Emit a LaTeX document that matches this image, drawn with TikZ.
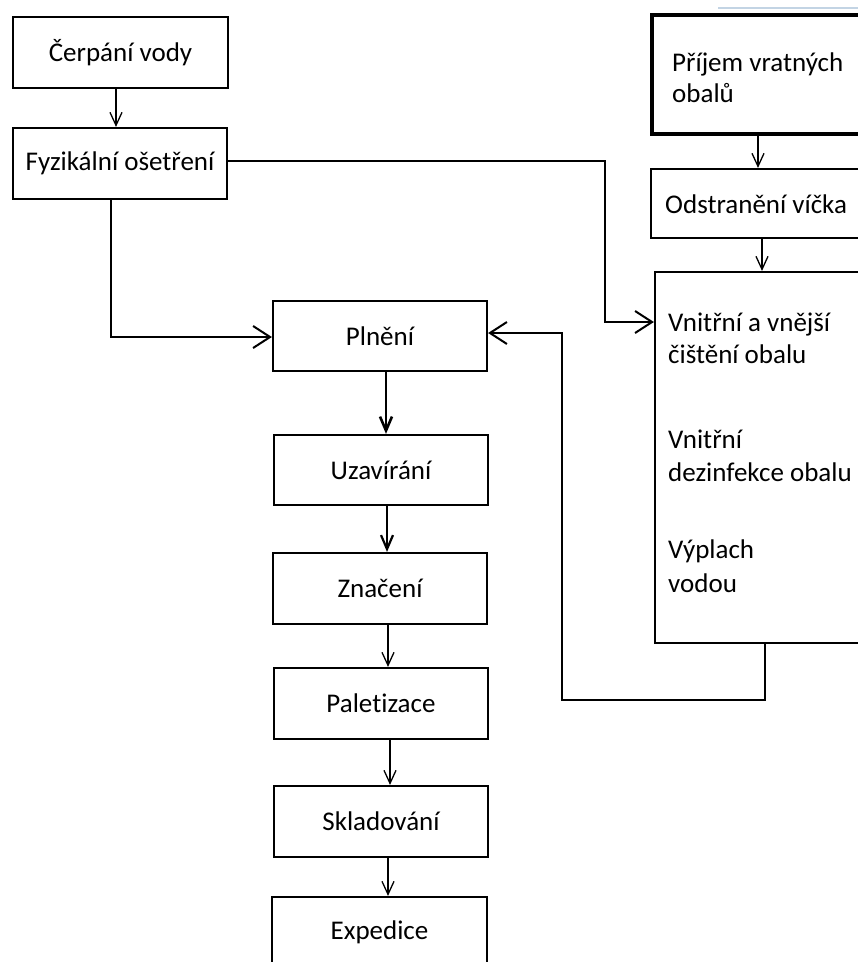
\documentclass[tikz,border=0pt]{standalone}
\usepackage{fontspec}
\setmainfont{Carlito}[Ligatures=NoCommon]
\usetikzlibrary{arrows.meta}

\begin{document}
\begin{tikzpicture}[x=1pt,y=-1pt,
  every node/.style={font=\fontsize{27}{33}\selectfont, inner sep=0pt},
  procbox/.style={draw, line width=2.2pt, rectangle},
  label text/.style={anchor=base west},
  conn/.style={line width=2pt, -{Straight Barb[length=17pt,width=22pt,line width=2pt]}},
  smallarrow/.style={line width=1.3pt, -{Straight Barb[length=13pt,width=12pt,line width=1.3pt]}},
  heavyarrow/.style={line width=2.8pt, -{Straight Barb[length=14pt,width=12pt,line width=2.6pt]}},
  midarrow/.style={line width=2.2pt, -{Straight Barb[length=14pt,width=12pt,line width=2.2pt]}}
]
% page area
\clip (0,0) rectangle (858,962);
\fill[white] (0,0) rectangle (858,962);

% faint rule along the top edge
\draw[color={rgb,255:red,195;green,212;blue,228}, line width=1.5pt] (718,8) -- (858,8);

% left column
\node[procbox, minimum width=215pt, minimum height=71pt] (cerp) at (120.5,52.5) {Čerpání vody};
\node[procbox, minimum width=214pt, minimum height=71pt] (fyz) at (120,163.5) {Fyzikální ošetření};

% central production line
\node[procbox, minimum width=214pt, minimum height=70pt] (pln) at (380,336) {Plnění};
\node[procbox, minimum width=214pt, minimum height=70pt] (uza) at (381,470) {Uzavírání};
\node[procbox, minimum width=214pt, minimum height=71pt] (zna) at (380,588.5) {Značení};
\node[procbox, minimum width=214pt, minimum height=71pt] (pal) at (381,703.5) {Paletizace};
\node[procbox, minimum width=214pt, minimum height=71pt] (skl) at (381,821.5) {Skladování};
\node[procbox, minimum width=215pt, minimum height=71pt] (exp) at (379.5,932.5) {Expedice};

% returnable packaging line
\node[draw, line width=4pt, minimum width=228pt, minimum height=119pt] (prij) at (766,74.5) {};
\node[procbox, minimum width=229pt, minimum height=69pt] (ods) at (765.5,203.5) {};
\node[procbox, minimum width=225pt, minimum height=371pt] (cist) at (767.5,457.5) {};

\node[label text] (prijA) at (672,71) {Příjem vratných};
\node[label text] (prijB) at (672,102) {obalů};
\node[label text] (odsA) at (665,213) {Odstranění víčka};
\node[label text] (cistA) at (668,331) {Vnitřní a vnější};
\node[label text] (cistB) at (668,363) {čištění obalu};
\node[label text] (cistC) at (668,448) {Vnitřní};
\node[label text] (cistD) at (668,481) {dezinfekce obalu};
\node[label text] (cistE) at (668,558) {Výplach};
\node[label text] (cistF) at (668,592) {vodou};

% vertical guides for the short arrows
\coordinate (xA) at (116,0);
\coordinate (xB) at (758,0);
\coordinate (xC) at (762,0);
\coordinate (xD) at (386,0);
\coordinate (xE) at (387,0);
\coordinate (xF) at (388,0);
\coordinate (xG) at (390,0);

\draw[smallarrow] (cerp.south -| xA) -- (fyz.north -| xA);
\draw[smallarrow] (prij.south -| xB) -- (ods.north -| xB);
\draw[smallarrow] (ods.south -| xC) -- (cist.north -| xC);

\draw[heavyarrow] (pln.south -| xD) -- (uza.north -| xD);
\draw[midarrow] (uza.south -| xE) -- (zna.north -| xE);
\draw[smallarrow] (zna.south -| xF) -- (pal.north -| xF);
\draw[smallarrow] (pal.south -| xG) -- (skl.north -| xG);
\draw[smallarrow] (skl.south -| xF) -- (exp.north -| xF);

% water treatment feeds both washing and filling
\coordinate (bendA) at (605,322);
\draw[conn] ([yshift=2.5pt]fyz.east) -| (bendA) -- (bendA -| cist.west);
\coordinate (bendB) at (111,337);
\draw[conn] (fyz.south -| bendB) -- (bendB) -- (bendB -| pln.west);

% cleaned packaging returns to filling
\coordinate (retA) at (765,700);
\coordinate (retB) at (562,333);
\draw[conn] (cist.south -| retA) -- (retA) -| (retB) -- (retB -| pln.east);
\end{tikzpicture}
\end{document}
